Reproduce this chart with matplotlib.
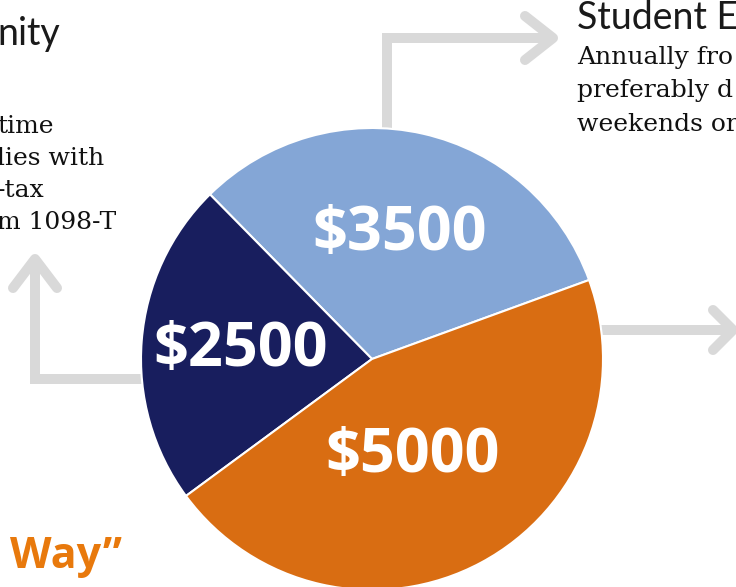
import matplotlib
matplotlib.use("Agg")
import matplotlib.pyplot as plt

# ---- data ----
amounts = [3500, 2500, 5000]
labels = ["$3500", "$2500", "$5000"]
colors = ["#84A6D6", "#181E5E", "#D96D12"]

W, H = 736, 587
fig = plt.figure(figsize=(W / 100, H / 100), dpi=100)
ax = fig.add_axes([0, 0, 1, 1])

def Y(y):  # pixel row -> data y
    return H - y

grey = "#D9D9D9"
lw = 7.2

# arrows (behind pie)
ax.plot([387, 387, 550], [Y(140), Y(38), Y(38)], color=grey, lw=lw, solid_joinstyle="miter", solid_capstyle="butt", zorder=1)
ax.plot([525, 553, 525], [Y(16), Y(38), Y(60)], color=grey, lw=lw, solid_capstyle="round", solid_joinstyle="round", zorder=1)
ax.plot([160, 35, 35], [Y(379), Y(379), Y(260)], color=grey, lw=lw, solid_joinstyle="miter", solid_capstyle="butt", zorder=1)
ax.plot([13, 35, 57], [Y(288), Y(259), Y(288)], color=grey, lw=lw, solid_capstyle="round", solid_joinstyle="round", zorder=1)
ax.plot([590, 733], [Y(330), Y(330)], color=grey, lw=lw, solid_capstyle="butt", zorder=1)
ax.plot([713, 733, 713], [Y(310), Y(330), Y(350)], color=grey, lw=lw, solid_capstyle="round", solid_joinstyle="round", zorder=1)

wedges, _ = ax.pie(amounts, colors=colors, startangle=20, counterclock=True,
                   center=(372, Y(359)), radius=231,
                   wedgeprops=dict(edgecolor="white", linewidth=1.5))
for w in wedges:
    w.set_zorder(2)

label_pos = [(400, 235), (241, 350), (413, 456)]
for lab, (x, y) in zip(labels, label_pos):
    ax.text(x, Y(y), lab, color="white", fontsize=44, fontweight="bold",
            family="Open Sans", ha="center", va="center", zorder=3)

# side texts
ax.text(-3, Y(45), "nity", fontsize=27, family="Lato", fontweight="normal",
        color="#1a1a1a", ha="left", va="baseline")
ax.text(577, Y(29), "Student E", fontsize=27, family="Lato", fontweight="normal",
        color="#1a1a1a", ha="left", va="baseline")

right_lines = ["Annually fro", "preferably d", "weekends or"]
right_base = [64, 97, 131]
for t, b in zip(right_lines, right_base):
    ax.text(577, Y(b), t, fontsize=18, family="DejaVu Serif", color="#111111",
            ha="left", va="baseline")

left_lines = ["time", "lies with", "-tax", "m 1098-T"]
left_base = [133, 165, 197, 229]
for t, b in zip(left_lines, left_base):
    ax.text(-3, Y(b), t, fontsize=18, family="DejaVu Serif", color="#111111",
            ha="left", va="baseline")

ax.text(10, Y(568), "Way\u201d", fontsize=31, family="Open Sans", fontweight="bold",
        color="#E8790C", ha="left", va="baseline")

ax.set_xlim(0, W)
ax.set_ylim(0, H)
ax.set_aspect("auto")
ax.axis("off")

fig.savefig("out.png", dpi=100)
